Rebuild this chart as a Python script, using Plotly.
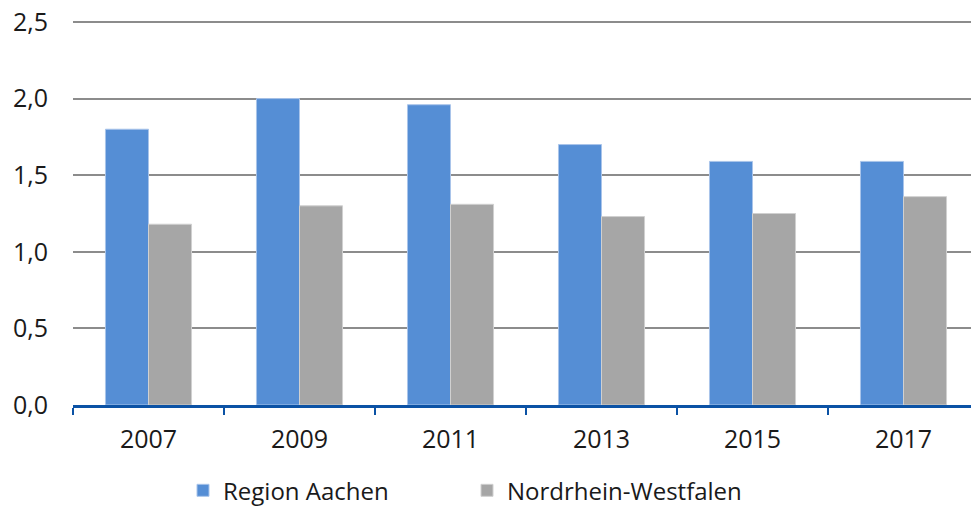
import plotly.graph_objects as go

years = ["2007", "2009", "2011", "2013", "2015", "2017"]
region_aachen = [1.80, 2.00, 1.96, 1.70, 1.59, 1.59]
nrw = [1.18, 1.30, 1.31, 1.23, 1.25, 1.36]

font_family = "Open Sans, Noto Sans, sans-serif"

fig = go.Figure()
fig.add_trace(go.Bar(
    x=years, y=region_aachen, name="Region Aachen",
    marker=dict(color="#558ED5", line=dict(color="#A9C4EA", width=1)),
))
fig.add_trace(go.Bar(
    x=years, y=nrw, name="Nordrhein-Westfalen",
    marker=dict(color="#A6A6A6", line=dict(color="#D0D0D0", width=1)),
))

fig.update_layout(
    width=971, height=508,
    margin=dict(l=73, r=0, t=20, b=103),
    paper_bgcolor="white", plot_bgcolor="white",
    barmode="group", bargap=0.43, bargroupgap=0,
    separators=",.",
    font=dict(family=font_family, size=25, color="#1a1a1a"),
    showlegend=True,
    legend=dict(
        orientation="h", xref="container", x=183 / 971, xanchor="left",
        yref="container", y=0.034, yanchor="middle",
        font=dict(size=24, color="#1a1a1a"),
        itemwidth=30, entrywidth=239, traceorder="normal",
    ),
    xaxis=dict(
        type="category",
        range=[-0.5, -0.5 + 898 / 151],
        showline=True, linecolor="#0B52A5", linewidth=2.5,
        ticks="outside", tickson="boundaries", ticklen=7, tickwidth=2,
        tickcolor="#0B52A5",
        showgrid=False,
        ticklabelstandoff=10,
        tickfont=dict(size=25, color="#1a1a1a"),
    ),
    yaxis=dict(
        # a hair of headroom so the 2,5 gridline is drawn inside the plot area
        range=[0, 2.513], tick0=0, dtick=0.5, tickformat=".1f",
        showgrid=True, gridcolor="#8C8C8C", gridwidth=2,
        zeroline=False, showline=False, ticks="",
        ticklabelstandoff=24,
        tickfont=dict(size=25, color="#1a1a1a"),
    ),
)

fig.write_html("out.html")
